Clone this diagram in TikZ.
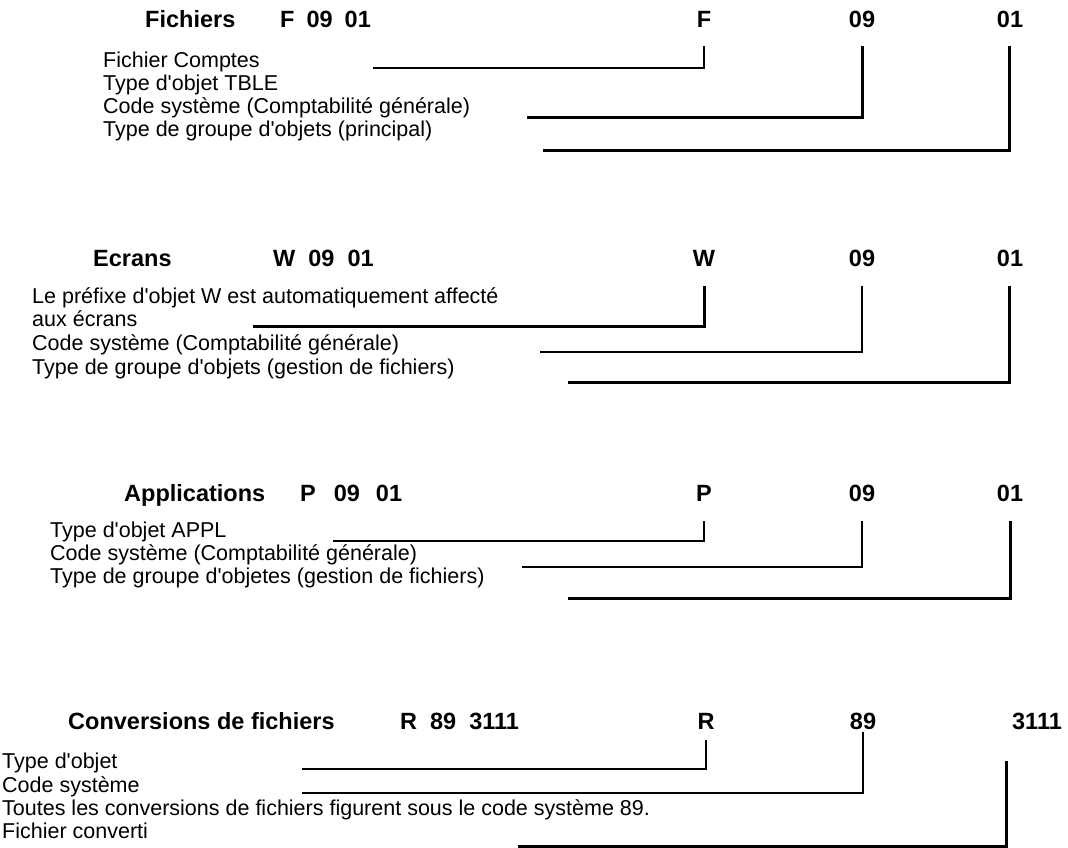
\documentclass[tikz,border=0pt]{standalone}
\usepackage{fontspec}
\setmainfont{Liberation Sans}
\newcommand{\ap}{\textquotesingle}
\begin{document}
\begin{tikzpicture}[x=1pt,y=-1pt,
  body/.style={anchor=base west,inner sep=0pt,font=\fontsize{21.5}{24}\selectfont},
  head/.style={anchor=base west,inner sep=0pt,font=\fontsize{23.5}{26}\selectfont\bfseries},
  code/.style={anchor=base,inner sep=0pt,font=\fontsize{23.5}{26}\selectfont\bfseries},
  thin/.style={line width=1.6pt},
  thick/.style={line width=3pt}]
\useasboundingbox (0,0) rectangle (1068,848);
% ---------- Fichiers ----------
\node[head] (h1) at (145,28) {Fichiers};
\node[head] (c1) at (280,28) {F\hspace{12pt}09\hspace{12pt}01};
\node[code] (f1) at (704,28) {F};
\node[code] (s1) at (862,28) {09};
\node[code] (g1) at (1010,28) {01};
\node[body] (t11) at (103,68) {Fichier Comptes};
\node[body] (t12) at (103,91) {Type d\ap objet TBLE};
\node[body] (t13) at (103,114) {Code système (Comptabilité générale)};
\node[body] (t14) at (103,137) {Type de groupe d\ap objets (principal)};
\coordinate (a11) at (373,68);  \coordinate (b11) at (704,46);
\coordinate (a12) at (527,118); \coordinate (b12) at (862,46);
\coordinate (a13) at (543,151); \coordinate (b13) at (1009,46);
\draw[thin] (a11) -| (b11);
\draw[thick] (a12) -| (b12);
\draw[thick] (a13) -| (b13);
% ---------- Ecrans ----------
\node[head] (h2) at (93,266) {Ecrans};
\node[head] (c2) at (273,266) {W\hspace{13pt}09\hspace{13pt}01};
\node[code] (f2) at (704,266) {W};
\node[code] (s2) at (862,266) {09};
\node[code] (g2) at (1010,266) {01};
\node[body] (t21) at (32,303) {Le préfixe d\ap objet W est automatiquement affecté};
\node[body] (t22) at (32,326) {aux écrans};
\node[body] (t23) at (32,350) {Code système (Comptabilité générale)};
\node[body] (t24) at (32,374) {Type de groupe d\ap objets (gestion de fichiers)};
\coordinate (a21) at (253,326); \coordinate (b21) at (704,286);
\coordinate (a22) at (540,352); \coordinate (b22) at (862,286);
\coordinate (a23) at (568,382); \coordinate (b23) at (1009,286);
\draw[thick] (a21) -| (b21);
\draw[thin] (a22) -| (b22);
\draw[thick] (a23) -| (b23);
% ---------- Applications ----------
\node[head] (h3) at (124,501) {Applications};
\node[head] (c3) at (300,501) {P\hspace{18pt}09\hspace{16pt}01};
\node[code] (f3) at (704,501) {P};
\node[code] (s3) at (862,501) {09};
\node[code] (g3) at (1010,501) {01};
\node[body] (t31) at (50,537) {Type d\ap objet APPL};
\node[body] (t32) at (50,560) {Code système (Comptabilité générale)};
\node[body] (t33) at (50,583) {Type de groupe d\ap objetes (gestion de fichiers)};
\coordinate (a31) at (333,541); \coordinate (b31) at (704,521);
\coordinate (a32) at (522,567); \coordinate (b32) at (862,521);
\coordinate (a33) at (568,598); \coordinate (b33) at (1010,521);
\draw[thin] (a31) -| (b31);
\draw[thin] (a32) -| (b32);
\draw[thick] (a33) -| (b33);
% ---------- Conversions ----------
\node[head] (h4) at (68,729) {Conversions de fichiers};
\node[head] (c4) at (400,729) {R\hspace{13pt}89\hspace{13pt}3111};
\node[code] (f4) at (706,729) {R};
\node[code] (s4) at (863,729) {89};
\node[code] (g4) at (1037,729) {3111};
\node[body] (t41) at (2,768) {Type d\ap objet};
\node[body] (t42) at (2,792) {Code système};
\node[body] (t43) at (2,815) {Toutes les conversions de fichiers figurent sous le code système 89.};
\node[body] (t44) at (2,838) {Fichier converti};
\coordinate (a41) at (302,769); \coordinate (b41) at (706,740);
\coordinate (a42) at (302,793); \coordinate (b42) at (863,732);
\coordinate (a43) at (518,846); \coordinate (b43) at (1006,761);
\draw[thin] (a41) -| (b41);
\draw[thin] (a42) -| (b42);
\draw[thick] (a43) -| (b43);
\end{tikzpicture}
\end{document}
